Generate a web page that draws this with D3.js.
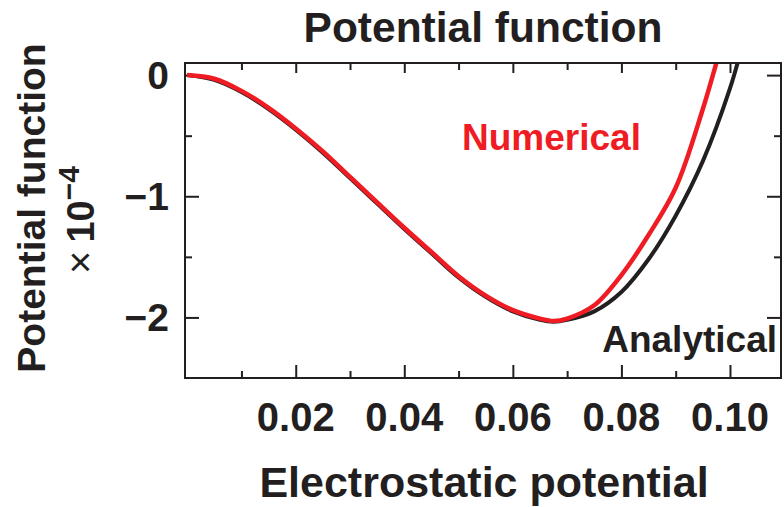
<!DOCTYPE html>
<html>
<head>
<meta charset="utf-8">
<script src="https://cdn.jsdelivr.net/npm/d3@7"></script>
<style>
  body { margin: 0; background: #fff; }
  text { font-family: "Liberation Sans", Arial, sans-serif; fill: #231f20; }
  .bold { font-weight: bold; }
</style>
</head>
<body>
<svg width="784" height="507"></svg>
<script>
// electrostatic potential (x values)
const potential = [0, 0.005, 0.01, 0.015, 0.02, 0.025, 0.03, 0.035, 0.04, 0.045, 0.05,
  0.055, 0.06, 0.065, 0.0675, 0.07, 0.075, 0.08, 0.085, 0.09, 0.095, 0.1, 0.102];
// potential function, units of 1e-4
const analytical = [0, -0.04, -0.14, -0.28, -0.45, -0.64, -0.85, -1.06, -1.27, -1.47, -1.67,
  -1.83, -1.95, -2.02, -2.035, -2.02, -1.95, -1.79, -1.52, -1.16, -0.71, -0.11, 0.2];
const numerical = [0, -0.03, -0.13, -0.27, -0.44, -0.63, -0.84, -1.05, -1.26, -1.46, -1.66,
  -1.82, -1.94, -2.01, -2.03, -2.01, -1.90, -1.65, -1.32, -0.93, -0.28, 0.5, 0.8];

const xMajor = [0.02, 0.04, 0.06, 0.08, 0.10];
const xMinor = [0.01, 0.03, 0.05, 0.07, 0.09];
const yMajor = [0, -1, -2];
const yMinor = [-0.5, -1.5];

const svg = d3.select('svg');
const dark = '#231f20';
const red = '#f01c24';
const margin = { left: 185, right: 3, top: 63, bottom: 129 };
const width = +svg.attr('width');
const height = +svg.attr('height');
const innerWidth = width - margin.left - margin.right;
const innerHeight = height - margin.top - margin.bottom;

const xScale = d3.scaleLinear().domain([-0.0004, 0.1094]).range([0, innerWidth]);
const yScale = d3.scaleLinear().domain([-2.5, 0.1]).range([innerHeight, 0]);

const g = svg.append('g').attr('transform', `translate(${margin.left},${margin.top})`);

g.append('clipPath').attr('id', 'plot-clip')
  .append('rect').attr('width', innerWidth).attr('height', innerHeight);

// ticks on all four sides, pointing inward, no labels
const addTicks = (axisFn, scale, values, size, transform) => {
  const ax = g.append('g')
    .attr('transform', transform)
    .call(axisFn(scale).tickValues(values).tickSize(-size).tickFormat(''));
  ax.select('.domain').remove();
  ax.selectAll('text').remove();
  ax.selectAll('line').attr('stroke', dark).attr('stroke-width', 2);
};

addTicks(d3.axisBottom, xScale, xMajor, 13, `translate(0,${innerHeight})`);
addTicks(d3.axisBottom, xScale, xMinor, 7, `translate(0,${innerHeight})`);
addTicks(d3.axisTop, xScale, xMajor, 10, 'translate(0,0)');
addTicks(d3.axisTop, xScale, xMinor, 7, 'translate(0,0)');
addTicks(d3.axisLeft, yScale, yMajor, 14, 'translate(0,0)');
addTicks(d3.axisLeft, yScale, yMinor, 7, 'translate(0,0)');
addTicks(d3.axisRight, yScale, yMajor, 14, `translate(${innerWidth},0)`);
addTicks(d3.axisRight, yScale, yMinor, 7, `translate(${innerWidth},0)`);

// tick labels
g.append('g').selectAll('text').data(xMajor).join('text')
  .attr('class', 'bold')
  .attr('x', d => xScale(d))
  .attr('y', innerHeight + 53)
  .attr('text-anchor', 'middle')
  .style('font-size', '40px')
  .text(d3.format('.2f'));

g.append('g').selectAll('text').data(yMajor).join('text')
  .attr('class', 'bold')
  .attr('x', -16)
  .attr('y', d => yScale(d))
  .attr('dy', '0.36em')
  .attr('text-anchor', 'end')
  .style('font-size', '39px')
  .text(d3.format('d'));

// curves
const line = d3.line()
  .x((d, i) => xScale(potential[i]))
  .y(d => yScale(d))
  .curve(d3.curveCatmullRom);

const curves = g.append('g').attr('clip-path', 'url(#plot-clip)');
curves.append('path')
  .attr('d', line(analytical))
  .attr('fill', 'none')
  .attr('stroke', dark)
  .attr('stroke-width', 4);
curves.append('path')
  .attr('d', line(numerical))
  .attr('fill', 'none')
  .attr('stroke', red)
  .attr('stroke-width', 4.5);

// frame
g.append('rect')
  .attr('width', innerWidth)
  .attr('height', innerHeight)
  .attr('fill', 'none')
  .attr('stroke', dark)
  .attr('stroke-width', 2);

// series labels
g.append('text')
  .attr('class', 'bold')
  .attr('x', 462 - margin.left)
  .attr('y', 150 - margin.top)
  .style('font-size', '37px')
  .style('fill', red)
  .text('Numerical');

g.append('text')
  .attr('class', 'bold')
  .attr('x', 777 - margin.left)
  .attr('y', 352 - margin.top)
  .attr('text-anchor', 'end')
  .style('font-size', '37px')
  .text('Analytical');

// title and axis titles
svg.append('text')
  .attr('class', 'bold')
  .attr('x', 483)
  .attr('y', 42)
  .attr('text-anchor', 'middle')
  .style('font-size', '42.5px')
  .text('Potential function');

svg.append('text')
  .attr('class', 'bold')
  .attr('x', 484)
  .attr('y', 497)
  .attr('text-anchor', 'middle')
  .style('font-size', '43px')
  .text('Electrostatic potential');

svg.append('text')
  .attr('class', 'bold')
  .attr('transform', 'translate(45,208) rotate(-90)')
  .attr('text-anchor', 'middle')
  .style('font-size', '39px')
  .text('Potential function');

const unit = svg.append('text')
  .attr('transform', 'translate(94,220) rotate(-90)')
  .attr('text-anchor', 'middle');
unit.append('tspan').style('font-size', '40px').text('\u00d7');
unit.append('tspan').attr('class', 'bold').attr('dx', 8).style('font-size', '38px').text('10');
unit.append('tspan').attr('class', 'bold').attr('dy', -15).style('font-size', '30px').text('\u22124');
</script>
</body>
</html>
